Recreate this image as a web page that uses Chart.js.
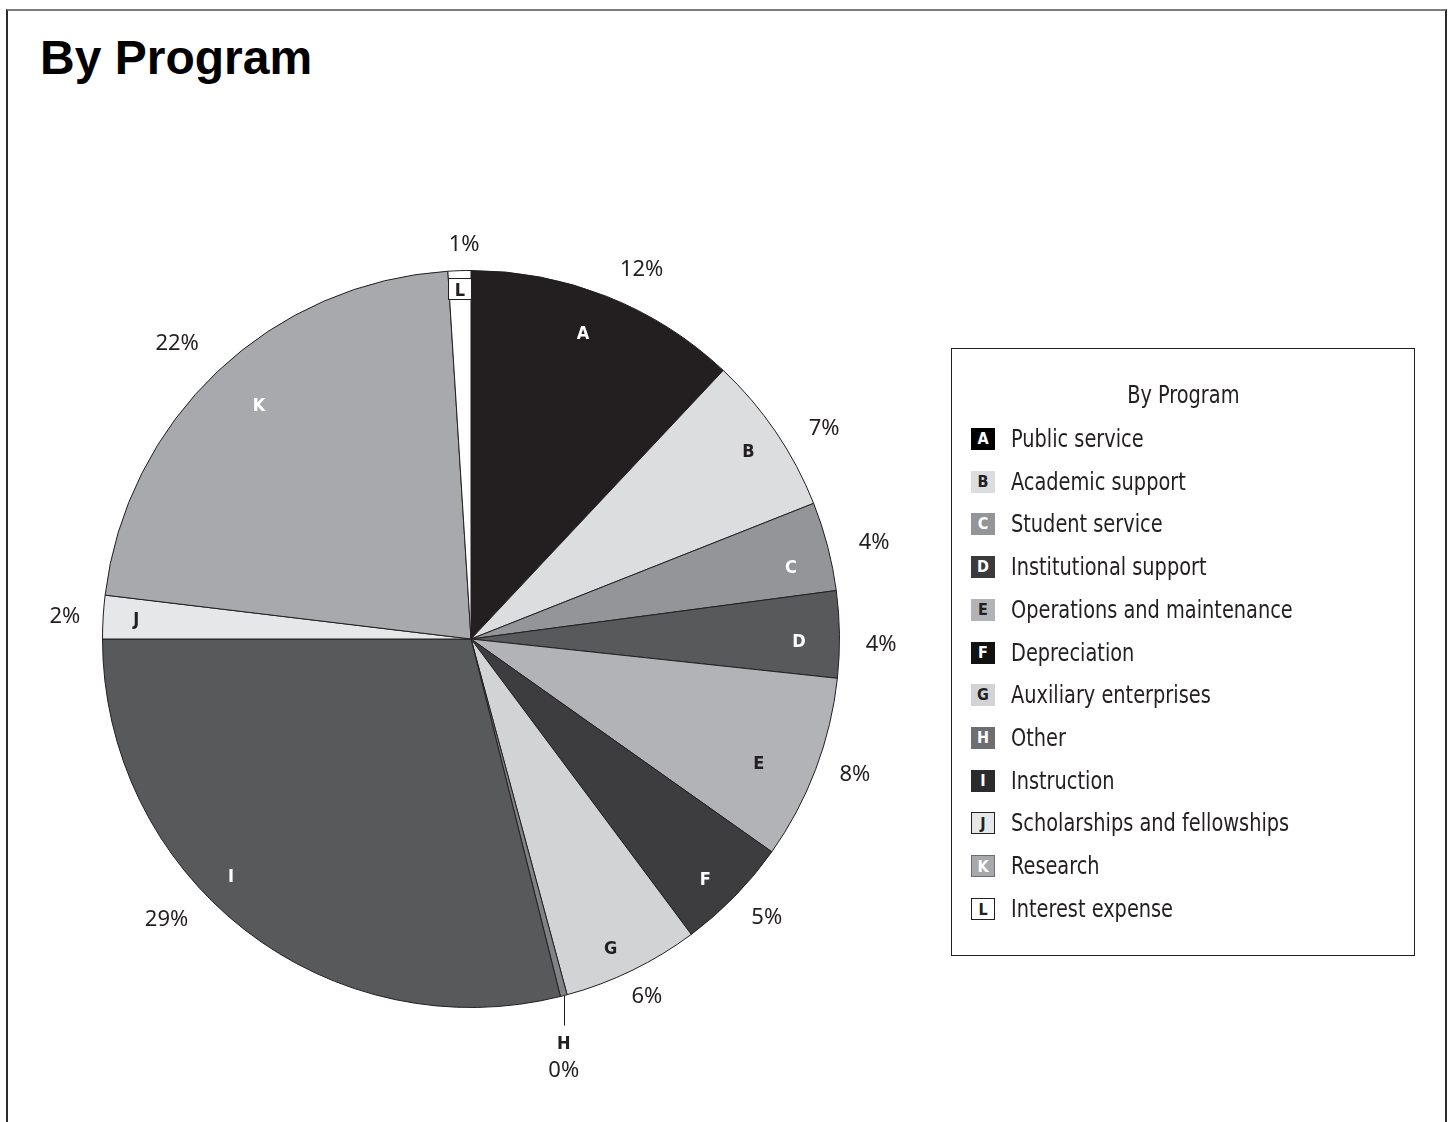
<!DOCTYPE html>
<html>
<head>
<meta charset="utf-8">
<title>By Program</title>
<script src="https://cdn.jsdelivr.net/npm/chart.js@4.4.1/dist/chart.umd.min.js"></script>
<style>
  body { margin: 0; background: #fff; }
  #page { position: relative; width: 1448px; height: 1122px; overflow: hidden; }
  .frame {
    position: absolute; left: 6px; top: 9px; width: 1441px; height: 1200px;
    box-sizing: border-box;
    border-top: 2px solid #7a7a7a;
    border-left: 2px solid #2b2b2b;
    border-right: 2px solid #2b2b2b;
  }
  h1 {
    position: absolute; left: 40px; top: 34px; margin: 0;
    font: bold 48px/48px "Liberation Sans", Arial, sans-serif; color: #000;
  }
  #chartWrap { position: absolute; left: 0; top: 0; width: 1448px; height: 1122px; }
  #legend {
    position: absolute; left: 951px; top: 348px; width: 464px; height: 608px;
    box-sizing: border-box; border: 1px solid #231f20;
    font-family: "DejaVu Sans Condensed", "DejaVu Sans", sans-serif;
    color: #231f20;
  }
  #legend .title {
    position: absolute; left: 0; right: 0; top: 31px; height: 30px;
    text-align: center; font-size: 25px; line-height: 30px;
  }
  #legend .title span { display: inline-block; transform: scaleX(0.86); }
  #legend .row { position: absolute; left: 0; height: 30px; line-height: 30px; font-size: 25px; }
  #legend .key {
    position: absolute; left: 19px; top: 4px; width: 24px; height: 22px;
    box-sizing: border-box; text-align: center;
    font-weight: bold; font-size: 16px; line-height: 22px;
  }
  #legend .name {
    position: absolute; left: 59px; top: 0; white-space: nowrap;
    transform: scaleX(0.86); transform-origin: 0 50%;
  }
</style>
</head>
<body>
<div id="page">
  <div class="frame"></div>
  <h1>By Program</h1>
  <div id="chartWrap"><canvas id="pie"></canvas></div>
  <div id="legend"><div class="title"><span>By Program</span></div></div>
</div>
<script>
// Data
const categories = ['A', 'B', 'C', 'D', 'E', 'F', 'G', 'H', 'I', 'J', 'K', 'L'];
const programNames = [
  'Public service', 'Academic support', 'Student service', 'Institutional support',
  'Operations and maintenance', 'Depreciation', 'Auxiliary enterprises', 'Other',
  'Instruction', 'Scholarships and fellowships', 'Research', 'Interest expense'
];
const shares = [12.0, 7.0, 3.9, 3.8, 8.1, 5.0, 6.0, 0.3, 28.9, 1.9, 22.1, 1.0];

// Styles
const sliceColors = [
  '#231f20', '#dcdddf', '#939598', '#58595b', '#b1b3b6', '#3d3d3f',
  '#d1d3d4', '#808285', '#58595b', '#e6e7e8', '#a7a9ac', '#ffffff'
];
const letterColors = [
  '#fff', '#231f20', '#fff', '#fff', '#231f20', '#fff',
  '#231f20', '#fff', '#fff', '#231f20', '#fff', '#231f20'
];
const keyBorders = { J: '#231f20', K: '#6d6e71', L: '#231f20' };
const keyColors = { A: '#000000', F: '#111111', I: '#2b2b2d', D: '#3a3a3c', H: '#6d6e71' };

// label placement relative to each slice (angle nudge in degrees, radius as share of outer radius)
const letterNudge = [-1.5, 0, 1.8, 1, 2.6, 1.4, 1.6, 0, 7.4, 0, 1.2, 0];
const letterRadius = [0.885, 0.91, 0.89, 0.89, 0.85, 0.91, 0.92, 1, 0.915, 0.91, 0.857, 0.95];
const pctNudge = [3.1, 3.2, 0.9, 1.3, -1.4, -1.2, -0.4, 0, 9.5, 0, -1.3, 0.8];
const pctRadius = [1.108, 1.118, 1.126, 1.113, 1.104, 1.099, 1.077, 1, 1.121, 1.104, 1.134, 1.075];

const letterSize = 18;
const pctSize = 22;
const letterFont = 'bold ' + letterSize + 'px "DejaVu Sans Condensed", "DejaVu Sans", sans-serif';
const pctFont = pctSize + 'px "Noto Sans", "Open Sans", sans-serif';

// draw text with its capitals centred on (x, y)
const capText = (ctx, text, x, y, size) => {
  ctx.fillText(text, x, y + size * 0.36);
};

// Slice letters + percentage labels
const pieLabels = {
  id: 'pieLabels',
  afterDatasetsDraw(chart) {
    const ctx = chart.ctx;
    const arcs = chart.getDatasetMeta(0).data;
    ctx.save();
    ctx.textAlign = 'center';
    ctx.textBaseline = 'alphabetic';
    arcs.forEach((arc, i) => {
      const { x, y, startAngle, endAngle, outerRadius } =
        arc.getProps(['x', 'y', 'startAngle', 'endAngle', 'outerRadius'], true);
      const mid = (startAngle + endAngle) / 2;
      const la = mid + letterNudge[i] * Math.PI / 180;
      const pa = mid + pctNudge[i] * Math.PI / 180;
      const pct = Math.round(shares[i]) + '%';
      const cat = categories[i];

      if (cat === 'H') {
        // leader line below the thin slice
        const px = x + Math.cos(mid) * outerRadius;
        const py = y + Math.sin(mid) * outerRadius;
        ctx.strokeStyle = '#231f20';
        ctx.lineWidth = 1;
        ctx.beginPath();
        ctx.moveTo(Math.round(px) + 0.5, py);
        ctx.lineTo(Math.round(px) + 0.5, py + 30);
        ctx.stroke();
        ctx.fillStyle = '#231f20';
        ctx.font = letterFont;
        capText(ctx, cat, px, py + 47, letterSize);
        ctx.font = pctFont;
        capText(ctx, pct, px, py + 73, pctSize);
        return;
      }

      const lx = x + Math.cos(la) * outerRadius * letterRadius[i];
      const ly = y + Math.sin(la) * outerRadius * letterRadius[i];

      if (cat === 'L') {
        ctx.fillStyle = '#fff';
        ctx.fillRect(lx - 12, ly - 11, 24, 22);
        ctx.strokeStyle = '#231f20';
        ctx.lineWidth = 1;
        ctx.strokeRect(Math.round(lx - 12) + 0.5, Math.round(ly - 11) + 0.5, 23, 21);
      }

      ctx.fillStyle = letterColors[i];
      ctx.font = letterFont;
      capText(ctx, cat, lx, ly, letterSize);

      ctx.fillStyle = '#231f20';
      ctx.font = pctFont;
      capText(ctx, pct,
        x + Math.cos(pa) * outerRadius * pctRadius[i],
        y + Math.sin(pa) * outerRadius * pctRadius[i], pctSize);
    });
    ctx.restore();
  }
};

new Chart(document.getElementById('pie'), {
  type: 'pie',
  data: {
    labels: programNames,
    datasets: [{
      data: shares,
      backgroundColor: sliceColors,
      borderColor: '#231f20',
      borderWidth: 1,
    }],
  },
  options: {
    responsive: true,
    maintainAspectRatio: false,
    animation: false,
    layout: { padding: { left: 102, top: 270, right: 608, bottom: 114 } },
    plugins: {
      legend: { display: false },
      tooltip: { enabled: false },
    },
  },
  plugins: [pieLabels],
});

// Legend
const legend = document.getElementById('legend');
categories.forEach((cat, i) => {
  const row = document.createElement('div');
  row.className = 'row';
  row.style.top = (90 + i * 42.7 - 15) + 'px';
  const key = document.createElement('div');
  key.className = 'key';
  key.textContent = cat;
  key.style.background = keyColors[cat] || sliceColors[i];
  key.style.color = letterColors[i];
  if (keyBorders[cat]) key.style.border = '1px solid ' + keyBorders[cat];
  const name = document.createElement('div');
  name.className = 'name';
  name.textContent = programNames[i];
  row.appendChild(key);
  row.appendChild(name);
  legend.appendChild(row);
});
</script>
</body>
</html>
